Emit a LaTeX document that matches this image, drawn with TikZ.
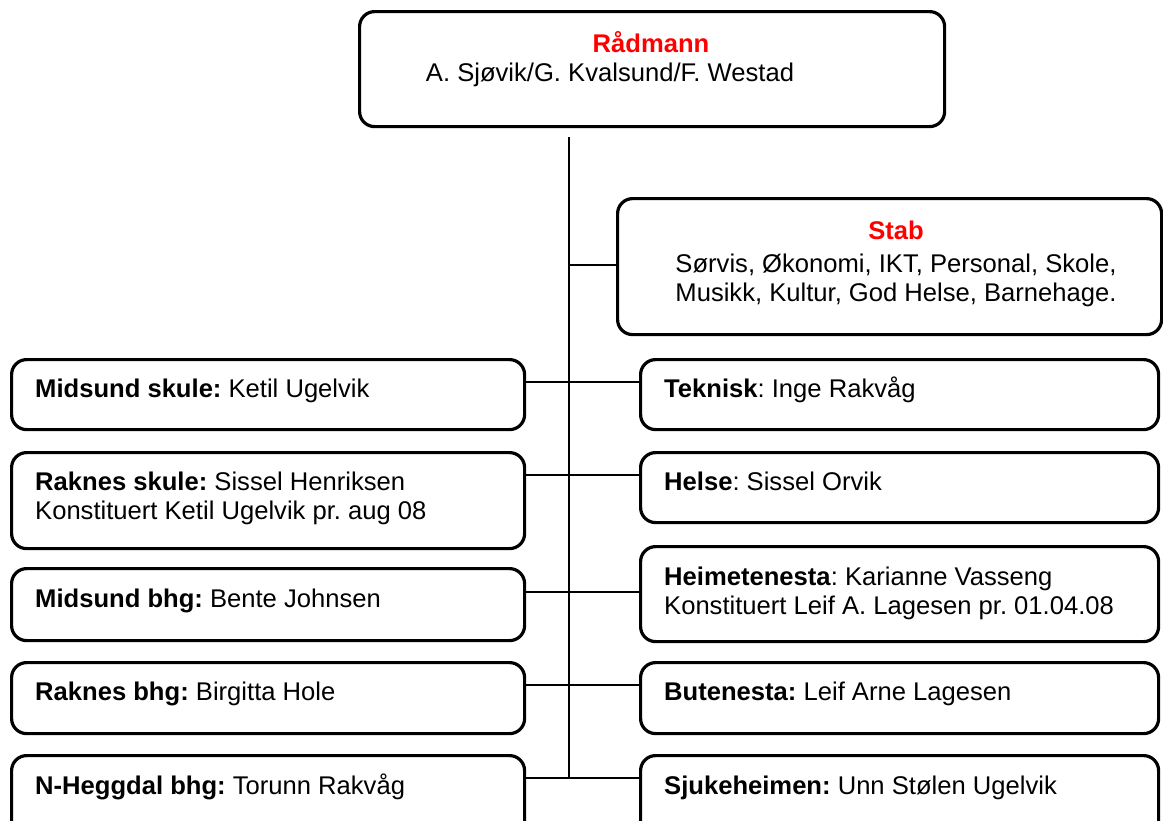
\documentclass[tikz,border=0pt]{standalone}
\usepackage{fontspec}
\setmainfont{Liberation Sans}
\definecolor{headred}{RGB}{255,0,0}
\frenchspacing
\begin{document}
\begin{tikzpicture}[x=1pt,y=-1pt,
  box/.style={draw=black, line width=3.2pt, rounded corners=15pt, rectangle, inner sep=0pt, anchor=north west},
  conn/.style={draw=black, line width=1.3pt},
  txt/.style={inner sep=0pt, anchor=base west, font=\fontsize{25.6}{29.4}\selectfont\frenchspacing},
  ctxt/.style={txt, anchor=base},
  head/.style={ctxt, text=headred, font=\fontsize{25.6}{29.4}\selectfont\bfseries}]
\clip (0,0) rectangle (1163,820);
\useasboundingbox (0,0) rectangle (1163,820);
% boxes
\node[box, minimum width=585pt, minimum height=115pt] (rad) at (358,10) {};
\node[box, minimum width=544pt, minimum height=136pt] (stab) at (616,197) {};
\node[box, minimum width=513pt, minimum height=70pt] (ms) at (10,358) {};
\node[box, minimum width=513pt, minimum height=96pt] (rs) at (10,451) {};
\node[box, minimum width=513pt, minimum height=72pt] (mb) at (10,567) {};
\node[box, minimum width=513pt, minimum height=71pt] (rb) at (10,661) {};
\node[box, minimum width=513pt, minimum height=96pt] (nb) at (10,754) {};
\node[box, minimum width=518pt, minimum height=70pt] (tk) at (639,358) {};
\node[box, minimum width=518pt, minimum height=70pt] (he) at (639,451) {};
\node[box, minimum width=518pt, minimum height=95pt] (hm) at (639,545) {};
\node[box, minimum width=518pt, minimum height=71pt] (bu) at (639,661) {};
\node[box, minimum width=518pt, minimum height=96pt] (sj) at (639,754) {};
% trunk
\coordinate (ttop) at (569,137);
\coordinate (tbot) at (569,778);
\coordinate (cs) at (569,265);
\coordinate (c1) at (569,382);
\coordinate (c2) at (569,475);
\coordinate (c3) at (569,592);
\coordinate (c4) at (569,685);
\coordinate (c5) at (569,778);
\draw[conn] (ttop) -- (tbot);
\draw[conn] (cs) -- (cs -| stab.west);
\draw[conn] (c1 -| ms.east) -- (c1 -| tk.west);
\draw[conn] (c2 -| rs.east) -- (c2 -| he.west);
\draw[conn] (c3 -| mb.east) -- (c3 -| hm.west);
\draw[conn] (c4 -| rb.east) -- (c4 -| bu.west);
\draw[conn] (c5 -| nb.east) -- (c5 -| sj.west);
% texts
\node[head] (radh) at (651,52) {Rådmann};
\node[ctxt] (radt) at (610,81) {A. Sjøvik/G. Kvalsund/F. Westad};
\node[head] (stabh) at (896,239) {Stab};
\node[ctxt] (stab1) at (896,272) {Sørvis, Økonomi, IKT, Personal, Skole,};
\node[ctxt] (stab2) at (896,301) {Musikk, Kultur, God Helse, Barnehage.};
\node[txt] (mst) at (35,397) {\textbf{Midsund skule:} Ketil Ugelvik};
\node[txt] (rst1) at (35,490) {\textbf{Raknes skule:} Sissel Henriksen};
\node[txt] (rst2) at (35,519) {Konstituert Ketil Ugelvik pr. aug 08};
\node[txt] (mbt) at (35,607) {\textbf{Midsund bhg:} Bente Johnsen};
\node[txt] (rbt) at (35,700) {\textbf{Raknes bhg:} Birgitta Hole};
\node[txt] (nbt) at (35,794) {\textbf{N-Heggdal bhg:} Torunn Rakvåg};
\node[txt] (tkt) at (664,397) {\textbf{Teknisk}: Inge Rakvåg};
\node[txt] (het) at (664,490) {\textbf{Helse}: Sissel Orvik};
\node[txt] (hmt1) at (664,585) {\textbf{Heimetenesta}: Karianne Vasseng};
\node[txt] (hmt2) at (664,614) {Konstituert Leif A. Lagesen pr. 01.04.08};
\node[txt] (but) at (664,700) {\textbf{Butenesta:} Leif Arne Lagesen};
\node[txt] (sjt) at (664,794) {\textbf{Sjukeheimen:} Unn Stølen Ugelvik};
\end{tikzpicture}
\end{document}
